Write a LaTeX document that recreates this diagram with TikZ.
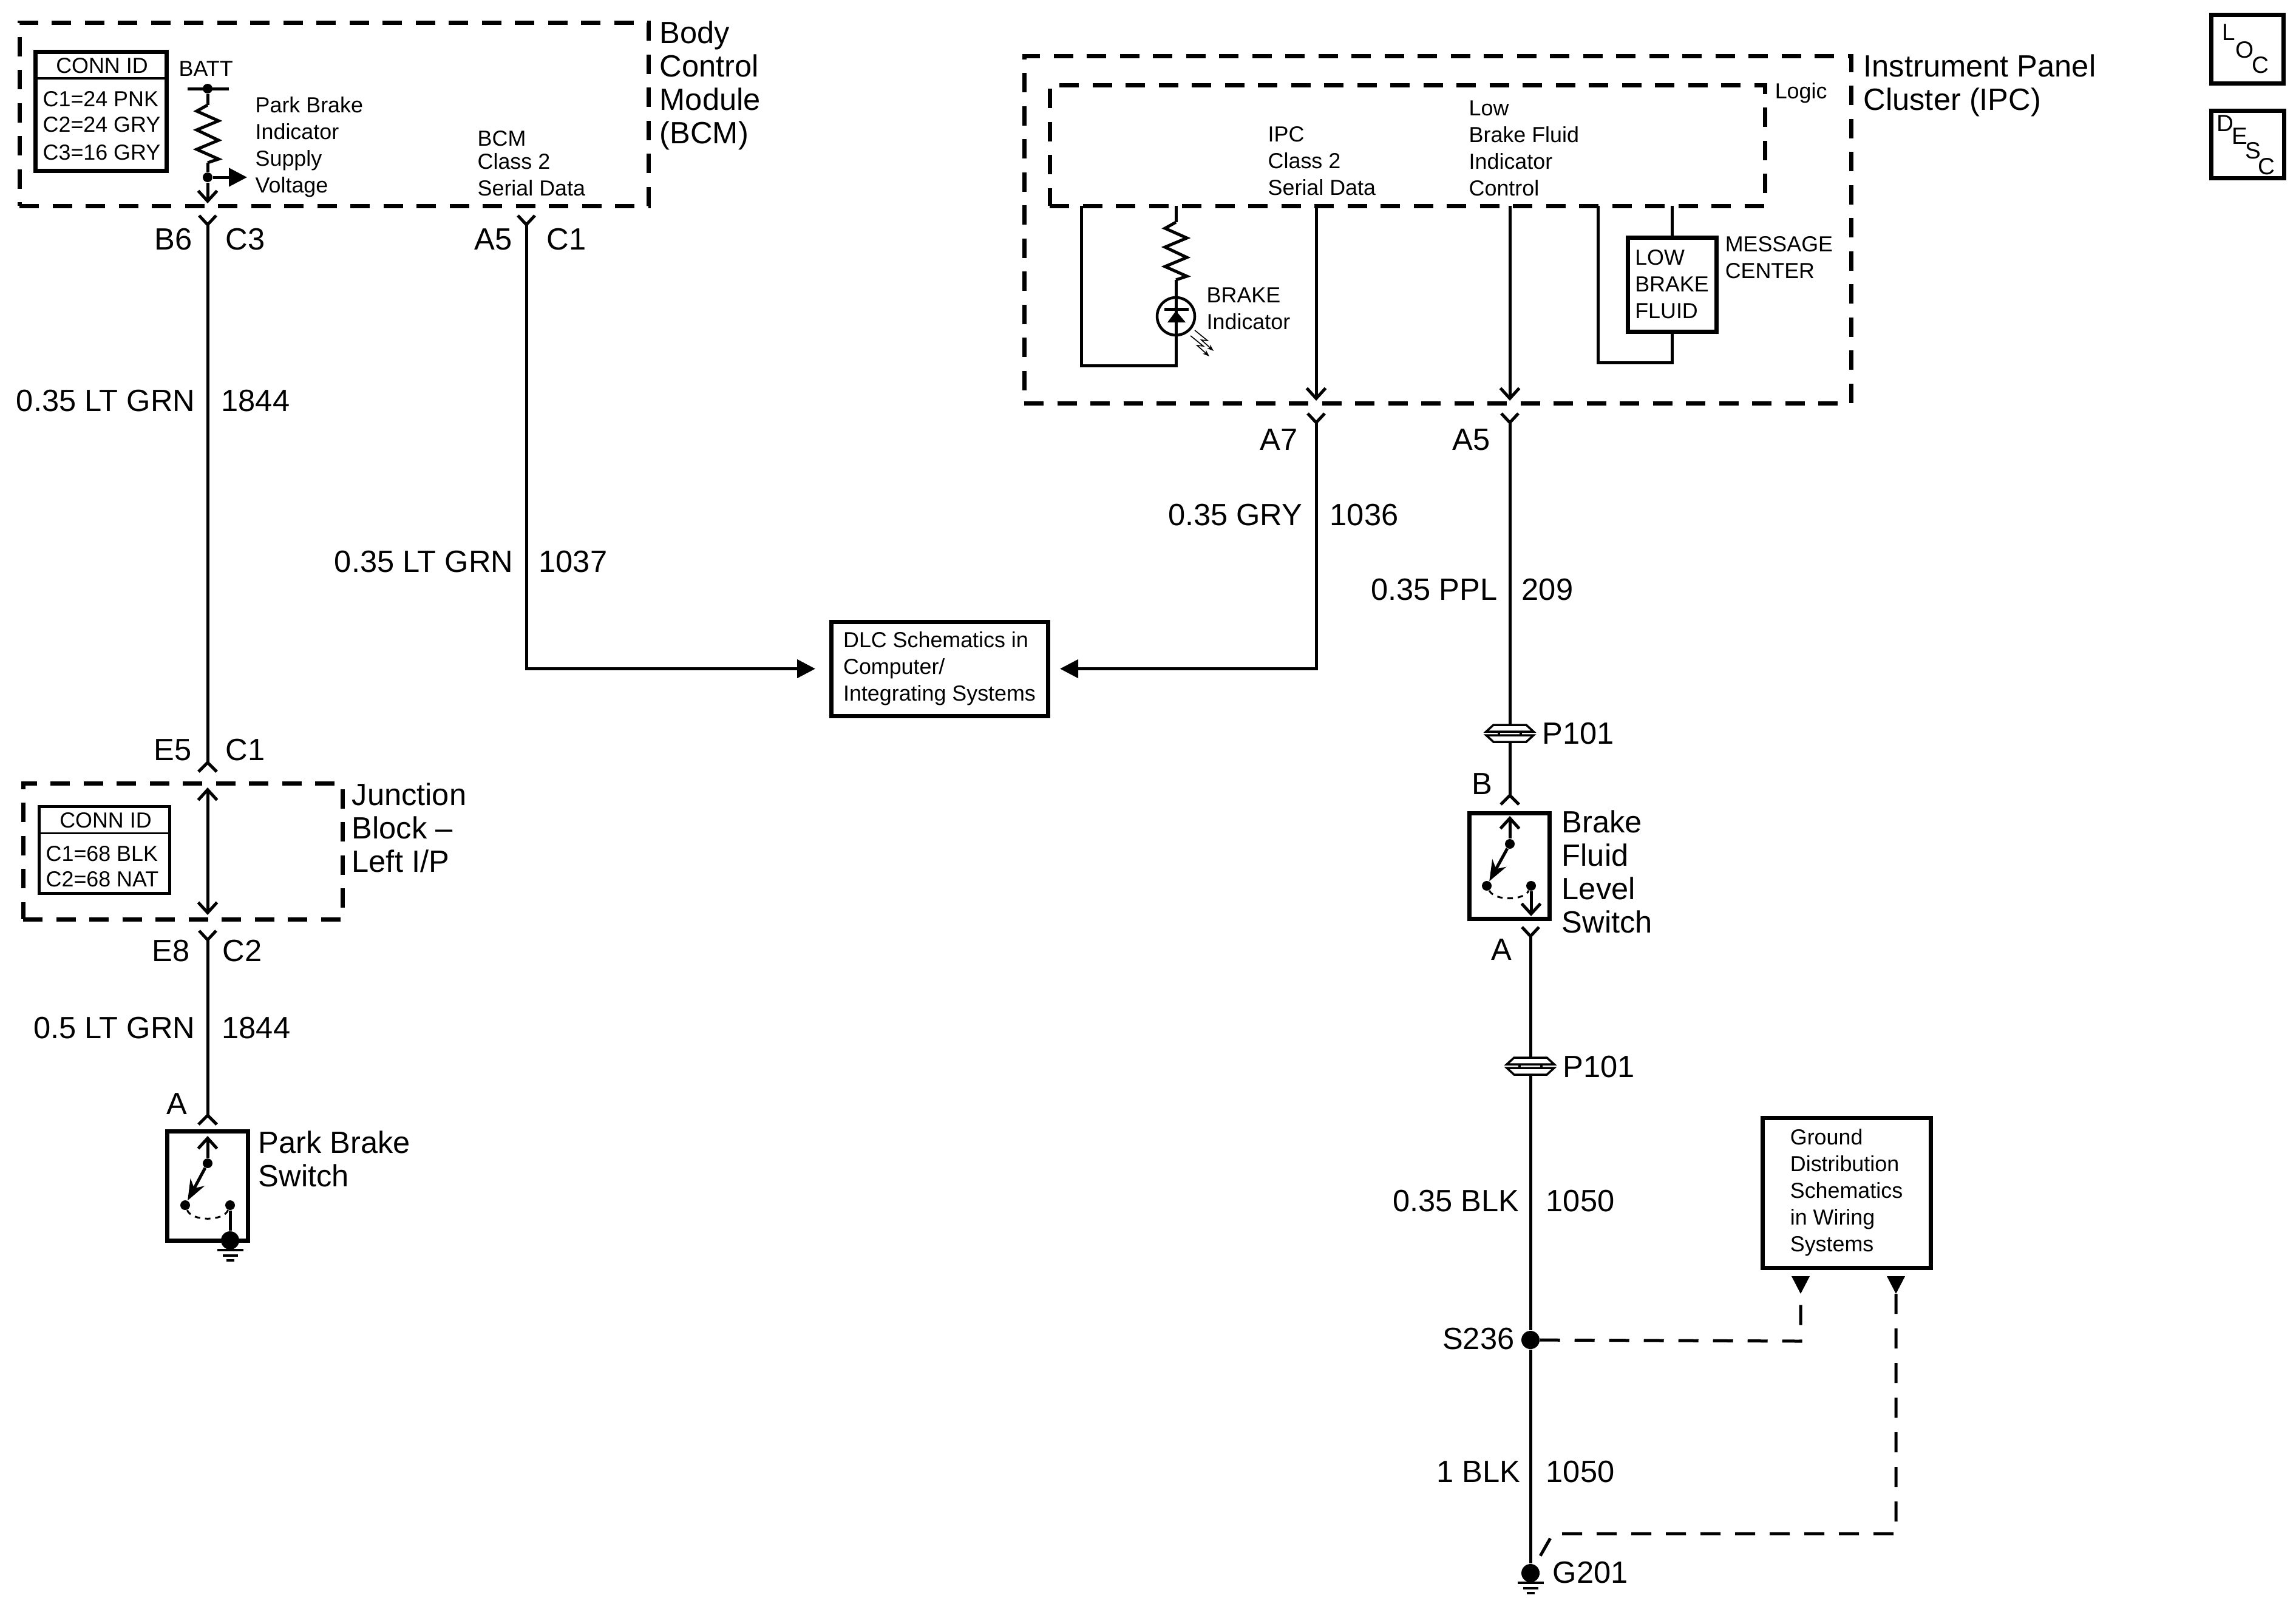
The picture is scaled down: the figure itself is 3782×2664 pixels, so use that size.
\documentclass[tikz,border=0pt]{standalone}
\usepackage{fontspec}
\setmainfont{Liberation Sans}
\usepackage{tikz}
\usetikzlibrary{arrows.meta, positioning}
\tikzstyle{bigtxt} = [font=\fontsize{14.4}{15.65}\selectfont, inner sep=0pt, align=left]
\tikzstyle{smalltxt} = [font=\fontsize{10.2}{12.5}\selectfont, inner sep=0pt, align=left]
\tikzstyle{sidetxt} = [font=\fontsize{11}{13}\selectfont, inner sep=0pt]
\tikzstyle{dashbox} = [rectangle, draw=black, line width=0.7mm, dash pattern=on 3.2mm off 2.25mm, inner sep=0pt, outer sep=0pt]
\tikzstyle{solidbox} = [rectangle, draw=black, line width=0.7mm, inner sep=0pt, outer sep=0pt, font=\fontsize{10.2}{12.5}\selectfont, align=left]
\tikzstyle{wire} = [line width=0.5mm]
\tikzstyle{barb} = [wire, -{Straight Barb[length=1.7mm,width=3.1mm]}]
\tikzstyle{dblbarb} = [wire, {Straight Barb[length=1.7mm,width=3.1mm]}-{Straight Barb[length=1.7mm,width=3.1mm]}]
\tikzstyle{feed} = [wire, -{Triangle[length=3mm,width=3mm]}]
\tikzstyle{lever} = [line width=0.5mm, -{Stealth[length=3.4mm,width=2.6mm]}]
\tikzstyle{swing} = [line width=0.3mm, dash pattern=on 0.9mm off 0.8mm]
\tikzstyle{dashwire} = [line width=0.5mm, dash pattern=on 3.3mm off 2.4mm]
\tikzstyle{dot} = [circle, fill=black, inner sep=0pt, minimum size=1.6mm]
\tikzstyle{bigdot} = [circle, fill=black, inner sep=0pt, minimum size=3mm]
\tikzset{
  pics/femaledn/.style={code={\draw [wire] (-14,-15) -- (0,0) -- (14,-15);}},
  pics/femaleup/.style={code={\draw [wire] (-15,15) -- (0,0) -- (15,15);}},
  pics/resist/.style={code={\draw [wire] (0,0) -- (-18,10) -- (18,26) -- (-18,41) -- (18,58) -- (-18,73) -- (18,89) -- (0,95);}},
  pics/gnd/.style={code={
    \draw [line width=0.35mm] (-21.5,16) -- (21.5,16);
    \draw [line width=0.35mm] (-12.5,25) -- (12.5,25);
    \draw [line width=0.35mm] (-6.5,33) -- (6.5,33);}},
  pics/inline/.style={code={
    \fill [white] (-25,-14) rectangle (25,14);
    \draw [line width=0.35mm, fill=white] (-39,-3) -- (-27,-14) -- (27,-14) -- (39,-3) -- cycle;
    \draw [line width=0.35mm, fill=white] (-39,3) -- (-27,14) -- (27,14) -- (39,3) -- cycle;
    \draw [line width=0.35mm] (-18,-3) -- (-18,3);
    \draw [line width=0.35mm] (18,-3) -- (18,3);}},
  pics/offpage/.style={code={\fill (-15,-29) -- (15,-29) -- (0,0) -- cycle;}},
  pics/ray/.style={code={\draw [line width=0.16mm, -{Stealth[length=1.1mm,width=0.8mm]}] (0,0) -- (21,17) -- (11,16) -- (31,34);}}
}
\begin{document}
\begin{tikzpicture}[x=0.1mm, y=-0.1mm]
\useasboundingbox (0,0) rectangle (3782,2664);

\node (bcm) [dashbox, minimum width=103.6mm, minimum height=30.2mm] at (550,188) {};
\node (bcmname) [bigtxt, anchor=north west] at (1086,34) {Body\\Control\\Module\\(BCM)};
\node (bcmconn) [solidbox, minimum width=21.6mm, minimum height=19.6mm] at (166,183) {};
\draw [line width=0.4mm] (bcmconn.west |- 0,129) -- (bcmconn.east |- 0,129);
\node (bcmid) [smalltxt, anchor=base] at (168,120) {CONN ID};
\node (bcmc1) [smalltxt, anchor=base west] at (70,175) {C1=24 PNK};
\node (bcmc2) [smalltxt, anchor=base west] at (70,217) {C2=24 GRY};
\node (bcmc3) [smalltxt, anchor=base west] at (70,263) {C3=16 GRY};
\node (batttxt) [smalltxt, anchor=base west] at (294,125) {BATT};
\node (supplytxt) [smalltxt, anchor=north west] at (420,159) {Park Brake\\Indicator\\Supply\\Voltage};
\node (bcmdata) [smalltxt, anchor=north west] at (786,215) {BCM\\[-1.7pt]Class 2\\Serial Data};

\node (battdot) [dot] at (342,146) {};
\node (supplydot) [dot] at (342,292) {};
\coordinate (battl) at (309,146);
\coordinate (battr) at (377,146);
\coordinate (resa) at (342,173);
\coordinate (resb) at (342,268);
\coordinate (supplytip) at (407,292);
\coordinate (bcmtip) at (342,335);
\draw [wire] (battl) -- (battr);
\draw [wire] (battdot) -- (resa);
\pic at (resa) {resist};
\draw [wire] (resb) -- (supplydot);
\draw [feed] (supplydot) -- (supplytip);
\draw [barb] (supplydot) -- (bcmtip);

\coordinate (b6) at (342,370);
\coordinate (e5) at (342,1256);
\coordinate (jbtop) at (342,1297);
\coordinate (jbbot) at (342,1507);
\coordinate (e8) at (342,1548);
\coordinate (swa) at (342,1837);
\pic at (b6) {femaledn};
\pic at (e5) {femaleup};
\pic at (e8) {femaledn};
\pic at (swa) {femaleup};
\draw [wire] (b6) -- (e5);
\draw [dblbarb] (jbtop) -- (jbbot);
\draw [wire] (e8) -- (swa);
\node (b6txt) [bigtxt, anchor=base east] at (317,411) {B6};
\node (c3txt) [bigtxt, anchor=base west] at (371,411) {C3};
\node (gauge1) [bigtxt, anchor=base east] at (322,677) {0.35 LT GRN};
\node (circ1) [bigtxt, anchor=base west] at (364,677) {1844};
\node (e5txt) [bigtxt, anchor=base east] at (316,1252) {E5};
\node (c1txt) [bigtxt, anchor=base west] at (371,1252) {C1};

\node (jb) [dashbox, minimum width=52.6mm, minimum height=22.4mm] at (301,1402) {};
\node (jbname) [bigtxt, anchor=north west] at (579,1289) {Junction\\Block –\\Left I/P};
\node (jbconn) [solidbox, line width=0.5mm, minimum width=21.5mm, minimum height=14.3mm] at (172,1399.5) {};
\draw [line width=0.3mm] (jbconn.west |- 0,1372) -- (jbconn.east |- 0,1372);
\node (jbid) [smalltxt, anchor=base] at (174,1363) {CONN ID};
\node (jbc1) [smalltxt, anchor=base west] at (75,1418) {C1=68 BLK};
\node (jbc2) [smalltxt, anchor=base west] at (75,1460) {C2=68 NAT};
\node (e8txt) [bigtxt, anchor=base east] at (313,1583) {E8};
\node (c2txt) [bigtxt, anchor=base west] at (366,1583) {C2};
\node (gauge2) [bigtxt, anchor=base east] at (322,1710) {0.5 LT GRN};
\node (circ2) [bigtxt, anchor=base west] at (365,1710) {1844};
\node (atxt1) [bigtxt, anchor=base] at (291,1835) {A};

\node (parksw) [solidbox, minimum width=13.35mm, minimum height=18mm] at (342,1953) {};
\node (parkname) [bigtxt, anchor=north west] at (425,1862) {Park Brake\\Switch};
\node (parkpiv) [dot] at (342,1916) {};
\node (parkno) [dot] at (305,1985) {};
\node (parknc) [dot] at (379,1985) {};
\node (parkgnd) [bigdot] at (379,2043) {};
\coordinate (parktip) at (342,1871);
\draw [barb] (parkpiv) -- (parktip);
\draw [lever] (parkpiv) -- (parkno);
\draw [swing] (parkno) .. controls (316,2012) and (368,2012) .. (parknc);
\draw [wire] (parknc) -- (parkgnd);
\pic at (parkgnd) {gnd};

\coordinate (a5l) at (867,370);
\pic at (a5l) {femaledn};
\node (a5txt) [bigtxt, anchor=base east] at (844,411) {A5};
\node (c1txtb) [bigtxt, anchor=base west] at (900,411) {C1};
\node (gauge3) [bigtxt, anchor=base east] at (846,942) {0.35 LT GRN};
\node (circ3) [bigtxt, anchor=base west] at (887,942) {1037};

\node (dlc) [solidbox, minimum width=35.7mm, minimum height=15.5mm] at (1547.5,1101.5) {DLC Schematics in\\Computer/\\Integrating Systems};
\draw [feed, shorten >=2.6mm] (a5l) |- (dlc.west);

\node (ipc) [dashbox, minimum width=136.2mm, minimum height=57.2mm] at (2368,378) {};
\node (logic) [dashbox, minimum width=117.8mm, minimum height=19.9mm] at (2318,239.5) {};
\node (ipcname) [bigtxt, anchor=north west] at (3069,89) {Instrument Panel\\Cluster (IPC)};
\node (logictxt) [smalltxt, anchor=base west] at (2923,162) {Logic};
\node (ipcdata) [smalltxt, anchor=north west] at (2088,208) {IPC\\Class 2\\Serial Data};
\node (lowctl) [smalltxt, anchor=north west] at (2419,165) {Low\\Brake Fluid\\Indicator\\Control};
\node (braketxt) [smalltxt, anchor=north west] at (1987,473) {BRAKE\\Indicator};
\node (msgtxt) [smalltxt, anchor=north west] at (2841,389) {MESSAGE\\CENTER};

\coordinate (lampl) at (1781,339);
\coordinate (lampr) at (1937,339);
\coordinate (lampa) at (1937,366);
\coordinate (lampb) at (1937,461);
\coordinate (lampc) at (1937,602);
\node (lamp) [circle, draw=black, line width=0.45mm, inner sep=0pt, minimum size=6.2mm] at (1937,521) {};
\draw [wire] (lampr) -- (lampa);
\pic at (lampa) {resist};
\draw [wire] (lampb) -- (lampc) -- (lampc -| lampl) -- (lampl);
\draw [wire] (1918,509) -- (1958,509);
\fill (1937,512) -- (1953,531) -- (1923,531) -- cycle;
\pic at (1968,544) {ray};
\pic at (1961,553) {ray};

\coordinate (a7s) at (2168,339);
\coordinate (a7tip) at (2168,660);
\coordinate (a7) at (2168,696);
\draw [barb] (a7s) -- (a7tip);
\pic at (a7) {femaledn};
\draw [feed, shorten >=2mm] (a7) |- (dlc.east);
\node (a7txt) [bigtxt, anchor=base east] at (2138,741) {A7};
\node (gauge4) [bigtxt, anchor=base east] at (2146,865) {0.35 GRY};
\node (circ4) [bigtxt, anchor=base west] at (2190,865) {1036};

\coordinate (a5s) at (2487,339);
\coordinate (a5tip) at (2487,660);
\coordinate (a5r) at (2487,696);
\coordinate (fluidb) at (2487,1310);
\draw [barb] (a5s) -- (a5tip);
\pic at (a5r) {femaledn};
\pic at (fluidb) {femaleup};
\draw [wire] (a5r) -- (fluidb);
\node (a5txtb) [bigtxt, anchor=base east] at (2455,741) {A5};
\node (gauge5) [bigtxt, anchor=base east] at (2467,988) {0.35 PPL};
\node (circ5) [bigtxt, anchor=base west] at (2506,988) {209};
\pic at (2487,1208) {inline};
\node (p101a) [bigtxt, anchor=base west] at (2540,1225) {P101};

\node (msg) [solidbox, minimum width=14.6mm, minimum height=15.5mm] at (2754,468.5) {LOW\\BRAKE\\FLUID};
\coordinate (msga) at (2754,339);
\coordinate (msgb) at (2632,339);
\coordinate (msgc) at (2632,597);
\draw [wire] (msga) -- (msg.north);
\draw [wire] (msgb) -- (msgc) -| (msg.south);

\node (btxt) [bigtxt, anchor=base] at (2441,1308) {B};
\node (fluidsw) [solidbox, minimum width=13.2mm, minimum height=17.4mm] at (2486,1426) {};
\node (fluidname) [bigtxt, anchor=north west] at (2572,1334) {Brake\\Fluid\\Level\\Switch};
\node (fluidpiv) [dot] at (2487,1390) {};
\node (fluidno) [dot] at (2449,1459) {};
\node (fluidnc) [dot] at (2522,1459) {};
\coordinate (fluidtop) at (2487,1344);
\coordinate (fluidtip) at (2522,1509);
\draw [barb] (fluidpiv) -- (fluidtop);
\draw [lever] (fluidpiv) -- (fluidno);
\draw [swing] (fluidno) .. controls (2462,1484) and (2510,1484) .. (fluidnc);
\draw [barb] (fluidnc) -- (fluidtip);
\coordinate (fluida) at (2521,1542);
\pic at (fluida) {femaledn};
\node (atxt2) [bigtxt, anchor=base] at (2473,1581) {A};

\node (s236) [bigdot] at (2521,2207) {};
\node (g201) [bigdot] at (2521,2591) {};
\draw [wire] (fluida) -- (s236);
\draw [wire] (s236) -- (g201);
\pic at (g201) {gnd};
\pic at (2521,1756) {inline};
\node (p101b) [bigtxt, anchor=base west] at (2574,1774) {P101};
\node (gauge6) [bigtxt, anchor=base east] at (2503,1995) {0.35 BLK};
\node (circ6) [bigtxt, anchor=base west] at (2546,1995) {1050};
\node (s236txt) [bigtxt, anchor=base east] at (2495,2222) {S236};
\node (gauge7) [bigtxt, anchor=base east] at (2505,2441) {1 BLK};
\node (circ7) [bigtxt, anchor=base west] at (2546,2441) {1050};
\node (g201txt) [bigtxt, anchor=base west] at (2557,2607) {G201};

\node (gndbox) [solidbox, minimum width=27.7mm, minimum height=24.7mm] at (3041.5,1964.5) {Ground\\Distribution\\Schematics\\in Wiring\\Systems};
\coordinate (gnda) at (2966,2131);
\coordinate (gndb) at (3123,2131);
\pic at (gnda) {offpage};
\pic at (gndb) {offpage};
\draw [dashwire] (s236) -- (2966,2209) -- (gnda);
\draw [dashwire] (gndb) -- (3123,2526) -- (2558,2526) -- (g201);

\node (locbox) [solidbox, minimum width=11.9mm, minimum height=11.3mm] at (3701.5,80.5) {};
\node (locl) [sidetxt, anchor=base west] at (3660,66) {L};
\node (loco) [sidetxt, anchor=base west] at (3682,95) {O};
\node (locc) [sidetxt, anchor=base west] at (3709,120) {C};
\node (descbox) [solidbox, minimum width=12mm, minimum height=11.1mm] at (3702,237.5) {};
\node (descd) [sidetxt, anchor=base west] at (3651,216) {D};
\node (desce) [sidetxt, anchor=base west] at (3676,237) {E};
\node (descs) [sidetxt, anchor=base west] at (3698,261) {S};
\node (descc) [sidetxt, anchor=base west] at (3719,287) {C};
\end{tikzpicture}
\end{document}
